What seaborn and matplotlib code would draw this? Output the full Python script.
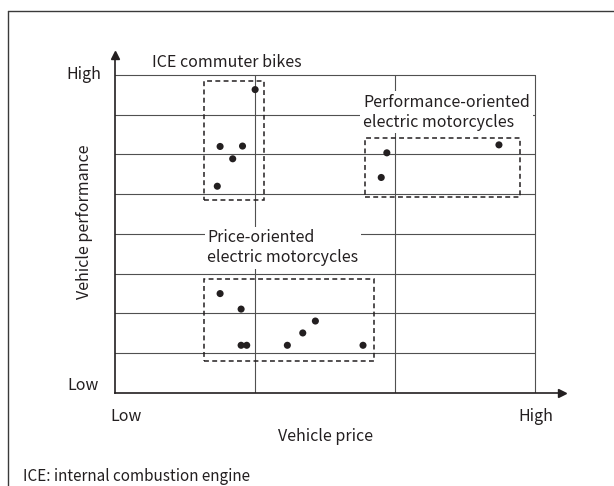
import matplotlib
matplotlib.use("Agg")
import matplotlib.pyplot as plt
from matplotlib.patches import Rectangle
from matplotlib.lines import Line2D
import seaborn as sns
import pandas as pd

# positions on a 0-3 (price) x 0-8 (performance) grid
ice_x = [1.00, 0.75, 0.91, 0.84, 0.73]
ice_y = [7.63, 6.20, 6.21, 5.89, 5.20]
perf_x = [1.94, 1.90, 2.74]
perf_y = [6.04, 5.42, 6.24]
price_x = [0.75, 0.90, 0.90, 0.94, 1.23, 1.34, 1.43, 1.77]
price_y = [2.50, 2.11, 1.20, 1.20, 1.20, 1.51, 1.81, 1.20]

# dashed group boxes: x0, x1, y0, y1
ice_box = [0.634, 1.062, 4.85, 7.84]
perf_box = [1.785, 2.892, 4.93, 6.42]
price_box = [0.634, 1.846, 0.795, 2.87]

group_labels = ["ICE commuter bikes",
                "Performance-oriented\nelectric motorcycles",
                "Price-oriented\nelectric motorcycles"]
axis_levels = ["Low", "High"]

TXT = "#231f20"

sns.set_style("white")
plt.rcParams["font.family"] = ["Noto Sans CJK JP", "DejaVu Sans"]

df = pd.DataFrame({
    "price": ice_x + perf_x + price_x,
    "perf": ice_y + perf_y + price_y,
})

fig = plt.figure(figsize=(6.14, 4.86), dpi=100)
W, H = 614, 486
# axes from y-axis (x=115) to arrow tip (x=562), x-axis (y=393) to arrow tip (y=55)
ax = fig.add_axes([115 / W, (H - 393) / H, (562 - 115) / W, (393 - 55) / H])
ax.set_xlim(0, 3.19)
ax.set_ylim(0, 8.50)

# grid
for yy in range(1, 9):
    ax.plot([0, 3], [yy, yy], color="#505050", lw=0.8, zorder=1)
for xx in range(1, 4):
    ax.plot([xx, xx], [0, 8], color="#505050", lw=0.8, zorder=1)

# dashed boxes
for x0, x1, y0, y1 in [ice_box, perf_box, price_box]:
    ax.add_patch(Rectangle((x0, y0), x1 - x0, y1 - y0, fill=False,
                           ec="#231f20", lw=1.1, ls=(0, (3.2, 2.2)), zorder=3))

sns.scatterplot(data=df, x="price", y="perf", color="#231f20", s=26,
                edgecolor="none", ax=ax, zorder=4, legend=False)

# axes with arrows
sns.despine(ax=ax)
for side in ["left", "bottom"]:
    ax.spines[side].set_linewidth(1.2)
    ax.spines[side].set_color("#231f20")
ax.plot(1, 0, ">", color="#231f20", ms=6, transform=ax.transAxes, clip_on=False)
ax.plot(0, 1, "^", color="#231f20", ms=6, transform=ax.transAxes, clip_on=False)
ax.set_xticks([])
ax.set_yticks([])
ax.set_xlabel("")
ax.set_ylabel("")

fs = 11.5
box = dict(facecolor="white", edgecolor="none", pad=2)
ax.text(0.80, 8.31, group_labels[0], ha="center", va="center", fontsize=fs, color=TXT)
ax.text(1.77, 7.06, group_labels[1], ha="left", va="center", fontsize=fs,
        color=TXT, bbox=box, linespacing=1.2, zorder=5)
ax.text(0.66, 3.655, group_labels[2], ha="left", va="center", fontsize=fs,
        color=TXT, bbox=box, linespacing=1.2, zorder=5)

# axis level labels
ax.text(-0.10, 8.0, axis_levels[1], ha="right", va="center", fontsize=fs, color=TXT, clip_on=False)
ax.text(-0.12, 0.2, axis_levels[0], ha="right", va="center", fontsize=fs, color=TXT, clip_on=False)
ax.text(0.077, -0.58, axis_levels[0], ha="center", va="center", fontsize=fs, color=TXT, clip_on=False)
ax.text(3.0, -0.58, axis_levels[1], ha="center", va="center", fontsize=fs, color=TXT, clip_on=False)
ax.text(1.50, -1.1, "Vehicle price", ha="center", va="center", fontsize=fs, color=TXT, clip_on=False)
ax.text(-0.22, 4.31, "Vehicle performance", ha="center", va="center", rotation=90,
        fontsize=fs, color=TXT, clip_on=False)

fig.text(23 / W, 1 - 476 / H, "ICE: internal combustion engine", ha="left", va="center",
         fontsize=11, color=TXT)

# outer frame (open on the right and bottom)
fig.add_artist(Line2D([8 / W, 8 / W], [0, 1 - 11 / H], transform=fig.transFigure,
                      color="#3a3a3a", lw=1.0))
fig.add_artist(Line2D([8 / W, 1], [1 - 11 / H, 1 - 11 / H], transform=fig.transFigure,
                      color="#3a3a3a", lw=1.0))

fig.savefig("out.png", dpi=100)
